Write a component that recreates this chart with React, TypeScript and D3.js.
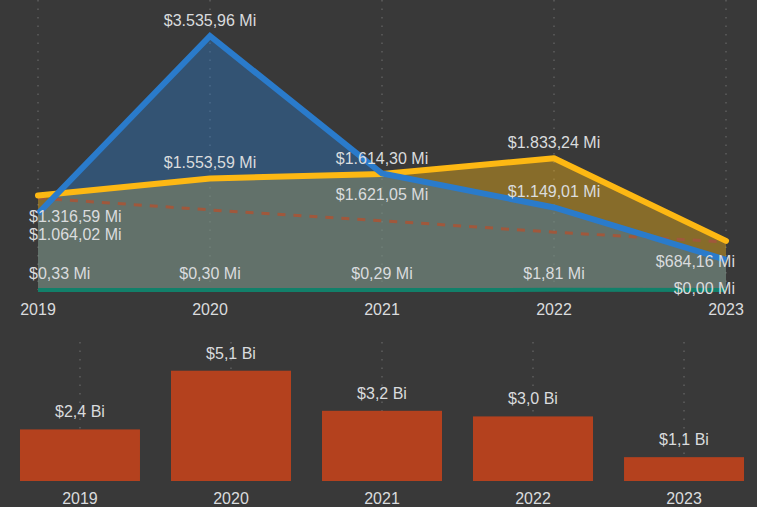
import React from "react";
import * as d3 from "d3";

const years = ["2019", "2020", "2021", "2022", "2023"];
const yellowValues = [1316.59, 1553.59, 1614.3, 1833.24, 684.16];
const blueValues = [1064.02, 3535.96, 1621.05, 1149.01, 420];
const greenValues = [0.33, 0.3, 0.29, 1.81, 0.0];
const trendValues = [1280, 1115, 965, 805, 668];
const barValues = [2.38, 5.09, 3.24, 2.98, 1.1];
const yellowLabelPos = ["below", "above", "above", "above", "below"];
const blueLabelPos = ["below", "above", "below", "above", "none"];
const greenLabelPos = ["above", "above", "above", "above", "low"];

const W = 757;
const H = 507;
const BG = "#393939";
const TEXT = "#dadcde";
const YELLOW = "#FDB813";
const BLUE = "#2A7BCB";
const GREEN = "#12806A";
const TREND = "#A0583C";
const BAR = "#B4411E";
const FONT = "'Liberation Sans', Arial, sans-serif";
const FS = 16;

const locale = d3.formatLocale({
  decimal: ",",
  thousands: ".",
  grouping: [3],
  currency: ["$", ""],
});
const fmtMi = (v: number) => "$" + locale.format(",.2f")(v) + " Mi";
const fmtBi = (v: number) => "$" + locale.format(".1f")(v) + " Bi";

export default function App() {
  const x = d3.scalePoint<string>().domain(years).range([38, 726]);
  const y = d3.scaleLinear().domain([0, d3.max(blueValues) as number]).range([290, 36]);

  const xb = d3
    .scaleBand<string>()
    .domain(years)
    .range([4.5, 759.5])
    .paddingInner(31 / 151)
    .paddingOuter(0.1025);
  const yb = d3.scaleLinear().domain([0, 5.09]).range([481, 370.7]);

  const area = (vals: number[]) =>
    d3
      .area<number>()
      .x((_, i) => x(years[i]) as number)
      .y0(y(0))
      .y1((d) => y(d))(vals) as string;
  const line = (vals: number[]) =>
    d3
      .line<number>()
      .x((_, i) => x(years[i]) as number)
      .y((d) => y(d))(vals) as string;

  const labels: { x: number; y: number; text: string; anchor: string }[] = [];
  const addLabels = (vals: number[], pos: string[]) => {
    vals.forEach((v, i) => {
      const p = pos[i];
      if (p === "none") return;
      const px = x(years[i]) as number;
      const py = y(v);
      const ly = p === "above" ? py - 16 : p === "below" ? py + 21 : py - 2;
      let anchor = "middle";
      let lx = px;
      if (i === 0) {
        anchor = "start";
        lx = px - 9;
      } else if (i === years.length - 1) {
        anchor = "end";
        lx = px + 9;
      }
      labels.push({ x: lx, y: ly, text: fmtMi(v), anchor });
    });
  };
  addLabels(yellowValues, yellowLabelPos);
  addLabels(blueValues, blueLabelPos);
  addLabels(greenValues, greenLabelPos);

  return (
    <svg
      width={W}
      height={H}
      style={{ position: "absolute", left: 0, top: 0, background: BG }}
      fontFamily={FONT}
    >
      <rect x={0} y={0} width={W} height={H} fill={BG} />
      {years.map((yr) => (
        <line
          key={"g" + yr}
          x1={x(yr)}
          x2={x(yr)}
          y1={0}
          y2={290}
          stroke="#5e5e5e"
          strokeWidth={1.5}
          strokeDasharray="1.5,7"
        />
      ))}
      <path d={area(yellowValues)} fill={YELLOW} fillOpacity={0.4} />
      <path d={area(blueValues)} fill={BLUE} fillOpacity={0.4} />
      <path d={area(greenValues)} fill={GREEN} fillOpacity={0.4} />
      <path d={line(trendValues)} fill="none" stroke={TREND} strokeWidth={3} strokeDasharray="8,8" />
      <path d={line(greenValues)} fill="none" stroke={GREEN} strokeWidth={4} />
      <path
        d={line(yellowValues)}
        fill="none"
        stroke={YELLOW}
        strokeWidth={6}
        strokeLinejoin="round"
        strokeLinecap="round"
      />
      <path
        d={line(blueValues)}
        fill="none"
        stroke={BLUE}
        strokeWidth={6}
        strokeLinejoin="miter"
        strokeLinecap="butt"
      />
      {labels.map((l, i) => (
        <text
          key={"l" + i}
          x={l.x}
          y={l.y}
          textAnchor={l.anchor}
          dominantBaseline="central"
          fontSize={FS}
          fill={TEXT}
        >
          {l.text}
        </text>
      ))}
      {years.map((yr) => (
        <text
          key={"xt" + yr}
          x={x(yr)}
          y={309}
          textAnchor="middle"
          dominantBaseline="central"
          fontSize={FS}
          fill={TEXT}
        >
          {yr}
        </text>
      ))}

      {years.map((yr) => (
        <line
          key={"gb" + yr}
          x1={(xb(yr) as number) + xb.bandwidth() / 2}
          x2={(xb(yr) as number) + xb.bandwidth() / 2}
          y1={342}
          y2={481}
          stroke="#5e5e5e"
          strokeWidth={1.5}
          strokeDasharray="1.5,7"
        />
      ))}
      {barValues.map((v, i) => (
        <rect
          key={"b" + i}
          x={xb(years[i])}
          y={yb(v)}
          width={xb.bandwidth()}
          height={yb(0) - yb(v)}
          fill={BAR}
        />
      ))}
      {barValues.map((v, i) => (
        <text
          key={"bl" + i}
          x={(xb(years[i]) as number) + xb.bandwidth() / 2}
          y={yb(v) - 17.5}
          textAnchor="middle"
          dominantBaseline="central"
          fontSize={FS}
          fill={TEXT}
        >
          {fmtBi(v)}
        </text>
      ))}
      {years.map((yr) => (
        <text
          key={"xb" + yr}
          x={(xb(yr) as number) + xb.bandwidth() / 2}
          y={498}
          textAnchor="middle"
          dominantBaseline="central"
          fontSize={FS}
          fill={TEXT}
        >
          {yr}
        </text>
      ))}
    </svg>
  );
}
